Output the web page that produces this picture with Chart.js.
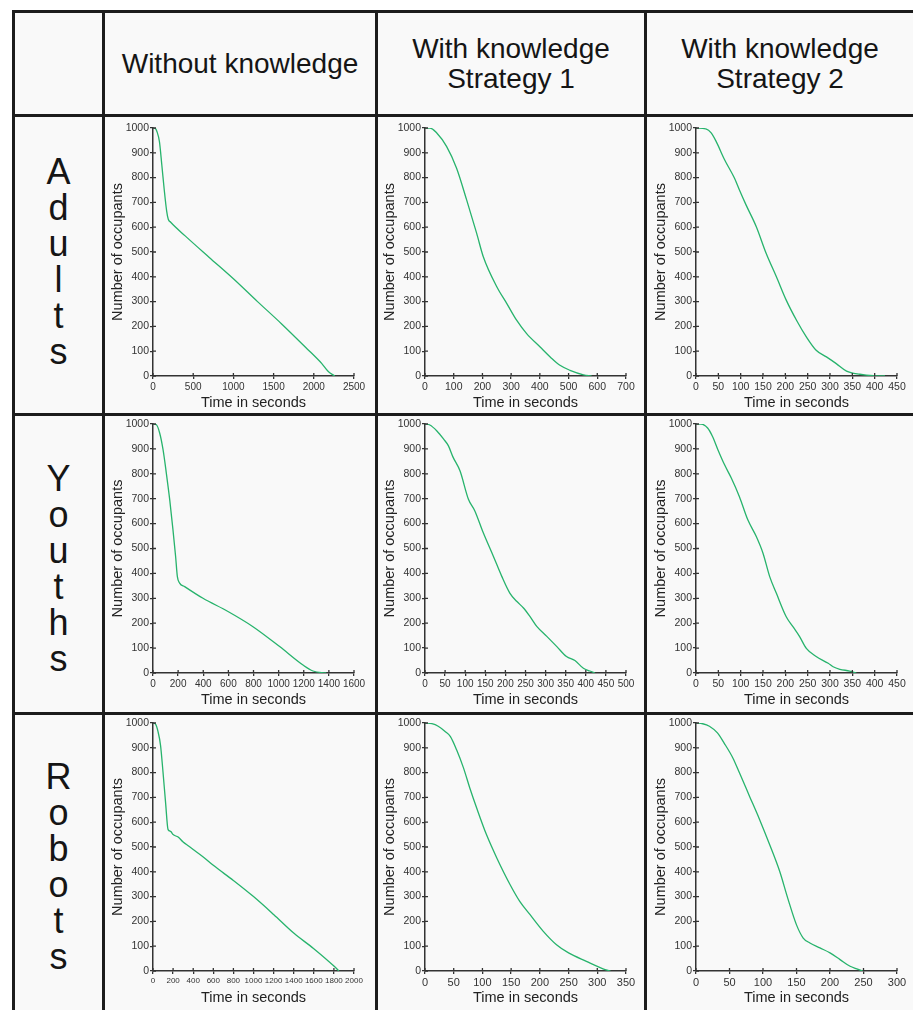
<!DOCTYPE html>
<html>
<head>
<meta charset="utf-8">
<script src="https://cdn.jsdelivr.net/npm/chart.js@4.4.1/dist/chart.umd.min.js"></script>
<style>
  html, body { margin: 0; padding: 0; background: #fff; }
  body { width: 913px; height: 1010px; overflow: hidden; position: relative; font-family: "Liberation Sans", Arial, sans-serif; }
  #sheet { position: absolute; left: 12px; top: 10px; width: 901px; height: 1000px; background: #f9f9f9; }
  .line { position: absolute; background: #1c1c1c; }
  .head { position: absolute; display: flex; align-items: center; justify-content: center; text-align: center; font-size: 28px; line-height: 30px; color: #151515; }
  .side { position: absolute; text-align: center; font-size: 36px; line-height: 36px; color: #151515; white-space: pre; }
  canvas { position: absolute; }
</style>
</head>
<body>
<div id="sheet"></div>
<script>
// table labels
const colTitles = ["Without knowledge", "With knowledge\nStrategy 1", "With knowledge\nStrategy 2"];
const rowTitles = ["Adults", "Youths", "Robots"];

// occupants left over time
const adultsNoKnowTime = [0, 20, 50, 80, 110, 140, 170, 190, 220, 400, 700, 1000, 1300, 1600, 1900, 2100, 2180, 2260];
const adultsNoKnowOcc  = [1000, 1000, 985, 945, 850, 750, 665, 632, 620, 565, 478, 392, 300, 210, 115, 50, 18, 0];

const adultsStrat1Time = [0, 17, 41, 75, 110, 145, 180, 203, 250, 285, 319, 354, 401, 436, 470, 505, 552, 580];
const adultsStrat1Occ  = [1000, 1000, 980, 926, 838, 710, 575, 481, 360, 292, 225, 171, 117, 77, 43, 23, 5, 0];

const adultsStrat2Time = [0, 22, 34, 45, 64, 86, 97, 112, 135, 157, 180, 202, 225, 247, 269, 292, 314, 337, 367, 397, 423];
const adultsStrat2Occ  = [1000, 996, 980, 946, 872, 798, 751, 690, 602, 495, 400, 306, 225, 158, 104, 77, 50, 20, 7, 1, 0];

const youthsNoKnowTime = [0, 27, 53, 80, 106, 133, 159, 180, 194, 212, 252, 398, 597, 796, 1008, 1194, 1273, 1379];
const youthsNoKnowOcc  = [1000, 997, 964, 897, 803, 696, 575, 468, 387, 361, 347, 300, 247, 186, 106, 32, 8, 0];

const youthsStrat1Time = [0, 12, 29, 46, 58, 70, 87, 108, 124, 145, 170, 191, 211, 228, 245, 261, 278, 303, 328, 352, 373, 394, 410, 423];
const youthsStrat1Occ  = [1000, 996, 973, 940, 913, 866, 812, 698, 651, 563, 469, 388, 321, 288, 261, 227, 187, 147, 106, 66, 50, 19, 8, 0];

const youthsStrat2Time = [0, 11, 26, 37, 49, 64, 79, 97, 116, 135, 150, 165, 180, 202, 217, 232, 247, 269, 296, 307, 322, 344, 359];
const youthsStrat2Occ  = [1000, 1000, 984, 950, 897, 836, 783, 709, 615, 548, 481, 387, 320, 226, 186, 146, 99, 66, 39, 25, 15, 8, 0];

const robotsNoKnowTime = [0, 25, 50, 75, 100, 125, 150, 175, 200, 250, 300, 350, 400, 500, 600, 800, 1000, 1200, 1400, 1600, 1800, 1850];
const robotsNoKnowOcc  = [1000, 995, 965, 910, 800, 680, 570, 563, 550, 540, 520, 505, 490, 460, 426, 365, 300, 228, 153, 90, 20, 0];

const robotsStrat1Time = [0, 12, 23, 35, 44, 55, 67, 78, 90, 107, 125, 148, 165, 183, 206, 229, 250, 281, 310, 323];
const robotsStrat1Occ  = [1000, 997, 987, 966, 946, 892, 819, 738, 657, 550, 456, 349, 281, 227, 160, 106, 73, 39, 9, 0];

const robotsStrat2Time = [0, 10, 20, 32, 42, 55, 65, 80, 95, 110, 125, 137, 150, 160, 170, 185, 200, 215, 230, 240, 249];
const robotsStrat2Occ  = [1000, 997, 987, 960, 919, 859, 798, 704, 610, 509, 401, 293, 186, 133, 113, 93, 73, 46, 19, 9, 0];

// x axis ranges per panel
const xMaxes  = [[2500, 700, 450], [1600, 500, 450], [2000, 350, 300]];
const xSteps  = [[500, 100, 50], [200, 50, 50], [200, 50, 50]];
const xFonts  = [[10, 10.5, 10.5], [10, 10, 10.5], [8, 11, 11]];

const panels = [
  [[adultsNoKnowTime, adultsNoKnowOcc], [adultsStrat1Time, adultsStrat1Occ], [adultsStrat2Time, adultsStrat2Occ]],
  [[youthsNoKnowTime, youthsNoKnowOcc], [youthsStrat1Time, youthsStrat1Occ], [youthsStrat2Time, youthsStrat2Occ]],
  [[robotsNoKnowTime, robotsNoKnowOcc], [robotsStrat1Time, robotsStrat1Occ], [robotsStrat2Time, robotsStrat2Occ]]
];

const GREEN = '#27b36c';
const AXIS = '#333';
Chart.defaults.font.family = '"Liberation Sans", Arial, sans-serif';

// grid of the table
function addLine(x, y, w, h) {
  const d = document.createElement('div');
  d.className = 'line';
  Object.assign(d.style, { left: x + 'px', top: y + 'px', width: w + 'px', height: h + 'px' });
  document.body.appendChild(d);
}
[12, 102, 375, 644].forEach(x => addLine(x, 10, 3, 1000));
[10, 114, 413, 712].forEach(y => addLine(12, y, 901, 3));

const colBoxes = [[105, 270], [378, 266], [647, 266]];
colTitles.forEach((t, i) => {
  const d = document.createElement('div');
  d.className = 'head';
  d.innerHTML = t.replace('\n', '<br>');
  Object.assign(d.style, { left: colBoxes[i][0] + 'px', width: colBoxes[i][1] + 'px', top: '13px', height: '101px' });
  document.body.appendChild(d);
});

const sideTops = [154, 461, 759];
rowTitles.forEach((t, i) => {
  const d = document.createElement('div');
  d.className = 'side';
  d.textContent = t.split('').join('\n');
  Object.assign(d.style, { left: '15px', width: '87px', top: sideTops[i] + 'px' });
  document.body.appendChild(d);
});

// little cross ticks on the axes
const crossTicks = {
  id: 'crossTicks',
  afterDraw(chart) {
    const { ctx, chartArea } = chart;
    const x = chart.scales.x, y = chart.scales.y;
    ctx.save();
    ctx.strokeStyle = AXIS;
    ctx.lineWidth = 1.3;
    ctx.beginPath();
    x.ticks.forEach(t => {
      const px = x.getPixelForValue(t.value);
      ctx.moveTo(px, chartArea.bottom - 3);
      ctx.lineTo(px, chartArea.bottom);
    });
    y.ticks.forEach(t => {
      const py = y.getPixelForValue(t.value);
      ctx.moveTo(chartArea.left, py);
      ctx.lineTo(chartArea.left + 3, py);
    });
    ctx.stroke();
    ctx.restore();
  }
};

const axisX = [153, 425, 696];
const topY = [128, 424, 723];
const plotH = [248, 249, 248];
const PLOT_W = 201, Y_W = 50, X_H = 40, PAD_T = 8, PAD_R = 16;
const plain = v => String(v);

function drawPanel(r, c) {
  const [time, occ] = panels[r][c];
  const canvas = document.createElement('canvas');
  const w = Y_W + PLOT_W + PAD_R;
  const h = PAD_T + plotH[r] + X_H;
  canvas.width = w;
  canvas.height = h;
  Object.assign(canvas.style, { left: (axisX[c] - Y_W) + 'px', top: (topY[r] - PAD_T) + 'px', width: w + 'px', height: h + 'px' });
  document.body.appendChild(canvas);

  new Chart(canvas.getContext('2d'), {
    type: 'line',
    data: {
      datasets: [{
        data: time.map((t, i) => ({ x: t, y: occ[i] })),
        borderColor: GREEN,
        borderWidth: 1.3,
        pointRadius: 0,
        fill: false,
        cubicInterpolationMode: 'monotone'
      }]
    },
    options: {
      responsive: false,
      animation: false,
      devicePixelRatio: 1,
      layout: { padding: { top: PAD_T, right: PAD_R, left: 0, bottom: 0 } },
      plugins: { legend: { display: false }, tooltip: { enabled: false } },
      scales: {
        x: {
          type: 'linear',
          min: 0,
          max: xMaxes[r][c],
          afterFit: s => { s.height = X_H; },
          grid: { drawOnChartArea: false, drawTicks: true, tickLength: 3, color: AXIS, lineWidth: 1.3 },
          border: { display: true, color: AXIS, width: 1.5 },
          ticks: { stepSize: xSteps[r][c], autoSkip: false, maxRotation: 0, minRotation: 0, padding: 2, color: '#333', font: { size: xFonts[r][c] }, callback: plain },
          title: { display: true, text: 'Time in seconds', color: '#222', font: { size: 14.5 }, padding: { top: 0, bottom: 4 } }
        },
        y: {
          min: 0,
          max: 1000,
          afterFit: s => { s.width = Y_W; },
          grid: { drawOnChartArea: false, drawTicks: true, tickLength: 3, color: AXIS, lineWidth: 1.3 },
          border: { display: true, color: AXIS, width: 1.5 },
          ticks: { stepSize: 100, autoSkip: false, padding: 1, color: '#333', font: { size: 10.5 }, callback: plain },
          title: { display: true, text: 'Number of occupants', color: '#222', font: { size: 14.5 }, padding: { top: 6, bottom: 0 } }
        }
      }
    },
    plugins: [crossTicks]
  });
}

for (let r = 0; r < 3; r++) {
  for (let c = 0; c < 3; c++) drawPanel(r, c);
}
</script>
</body>
</html>
